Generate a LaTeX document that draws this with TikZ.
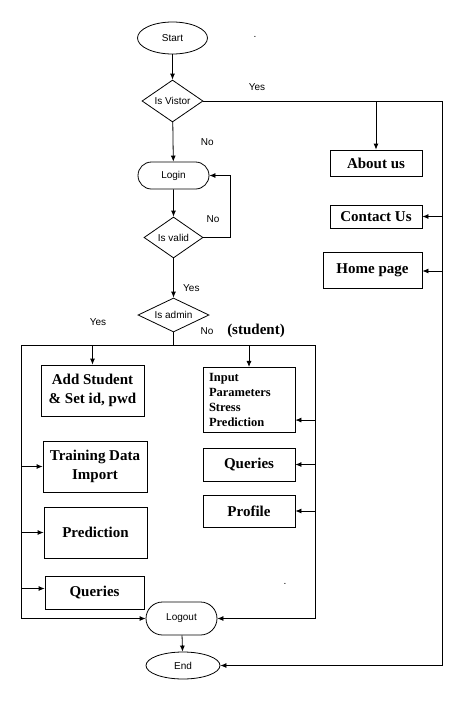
\documentclass[tikz,border=0pt]{standalone}
\usepackage{fontspec}
\setmainfont{Liberation Serif}
\setsansfont{Liberation Sans}
\usetikzlibrary{shapes.geometric,shapes.misc,arrows.meta}

\begin{document}
\begin{tikzpicture}[x=1pt, y=-1pt, line width=0.8pt,
    term/.style={draw, ellipse, inner sep=0pt, font=\sffamily\fontsize{10}{12}\selectfont},
    pill/.style={draw, rounded rectangle, inner sep=0pt, minimum width=71pt,
                 font=\sffamily\fontsize{10}{12}\selectfont},
    decide/.style={draw, diamond, aspect=1.5, inner sep=0pt,
                   font=\sffamily\fontsize{10}{12}\selectfont},
    page/.style={draw, rectangle, inner sep=2pt, align=center,
                 font=\bfseries\fontsize{15}{19}\selectfont},
    lbl/.style={font=\sffamily\fontsize{10}{12}\selectfont},
    flow/.style={-{Latex[length=6pt,width=5pt]}}]
    \useasboundingbox (0,0) rectangle (469,702);
    \node[term, minimum width=70pt, minimum height=32pt]   (start)   at (172.5,38)  {Start};
    \node[decide, minimum width=61pt, minimum height=42pt] (visitor) at (172.5,101) {Is Vistor};
    \node[pill, minimum height=27pt]                       (login)   at (173.5,175.5) {Login};
    \node[decide, minimum width=59pt, minimum height=41pt] (valid)   at (173.5,237.5) {Is valid};
    \node[decide, minimum width=71pt, minimum height=34pt] (admin)   at (173.5,315) {Is admin};
    \node[page, minimum width=92pt, minimum height=26pt]   (about)   at (376,163)   {About us};
    \node[page, minimum width=92pt, minimum height=23pt]   (contact) at (376,216.5) {Contact Us};
    \node[page, minimum width=99pt, minimum height=36pt]   (home)    at (372.5,270) {Home page};
    \node[page, minimum width=103pt, minimum height=51pt]  (addstu)  at (92.5,390.5) {Add Student\\\& Set id, pwd};
    \node[page, minimum width=104pt, minimum height=51pt]  (train)   at (95,466.5)  {Training Data\\Import};
    \node[page, minimum width=103pt, minimum height=51pt]  (predict) at (95.5,532.5) {Prediction};
    \node[page, minimum width=99pt, minimum height=33pt]   (aquery)  at (94.5,592.5) {Queries};
    \node[page, text width=80pt, inner sep=6pt, align=left, minimum height=64pt,
          font=\bfseries\fontsize{12.5}{15}\selectfont]    (input)   at (249,400)   {Input\\Parameters\\Stress\\Prediction};
    \node[page, minimum width=92pt, minimum height=33pt]   (squery)  at (249,464.5) {Queries};
    \node[page, minimum width=92pt, minimum height=32pt]   (profile) at (249,511)   {Profile};
    \node[pill, minimum height=33pt]                       (logout)  at (181.5,618.5) {Logout};
    \node[term, minimum width=74pt, minimum height=27pt]   (end)     at (183,665.5) {End};
    \node[font=\bfseries\fontsize{15}{18}\selectfont]      (student) at (256,331)   {(student)};
    \node[lbl] (yesv)  at (257,87)  {Yes};
    \node[lbl] (noval) at (213,219) {No};
    \node[lbl] (yesad) at (98,322)  {Yes};
    \node[lbl] (noad)  at (207,331) {No};
    \node[lbl] (dota)  at (255,37)  {.};
    \node[lbl] (dotb)  at (285,584) {.};
    \coordinate (vjoin) at (442,101);
    \coordinate (loopc) at (230,237.5);
    \coordinate (ajoin) at (21,345);
    \coordinate (sjoin) at (315,345);
    \draw[flow] (start) -- (visitor);
    \draw[flow] (visitor) -- node[lbl, right=24pt] {No} (login);
    \draw (visitor.east) -- (vjoin);
    \draw[flow] (vjoin) |- (end.east);
    \draw[flow] (about.north |- vjoin) -- (about);
    \draw[flow] (contact.east -| vjoin) -- (contact);
    \draw[flow] ([yshift=-1pt]home.east -| vjoin) -- ([yshift=-1pt]home.east);
    \draw[flow] (login) -- (valid);
    \draw (valid.east) -- (loopc);
    \draw[flow] (loopc) |- (login.east);
    \draw[flow] (valid) -- node[lbl, pos=0.75, right=6pt] {Yes} (admin);
    \draw (admin.south) -- (admin.south |- ajoin);
    \draw (ajoin) -- (sjoin);
    \draw[flow] (ajoin) |- (logout.west);
    \draw[flow] (sjoin) |- (logout.east);
    \draw[flow] (addstu.north |- ajoin) -- (addstu);
    \draw[flow] (input.north |- sjoin) -- (input);
    \draw[flow] (ajoin |- train.west) -- (train);
    \draw[flow] (ajoin |- predict.west) -- (predict);
    \draw[flow] ([yshift=4pt]aquery.west -| ajoin) -- ([yshift=4pt]aquery.west);
    \draw[flow] ([yshift=13pt]input.south east -| sjoin) -- ([yshift=13pt]input.south east);
    \draw[flow] (squery.east -| sjoin) -- (squery);
    \draw[flow] (profile.east -| sjoin) -- (profile);
    \draw[flow] (logout) -- (end);
\end{tikzpicture}
\end{document}
